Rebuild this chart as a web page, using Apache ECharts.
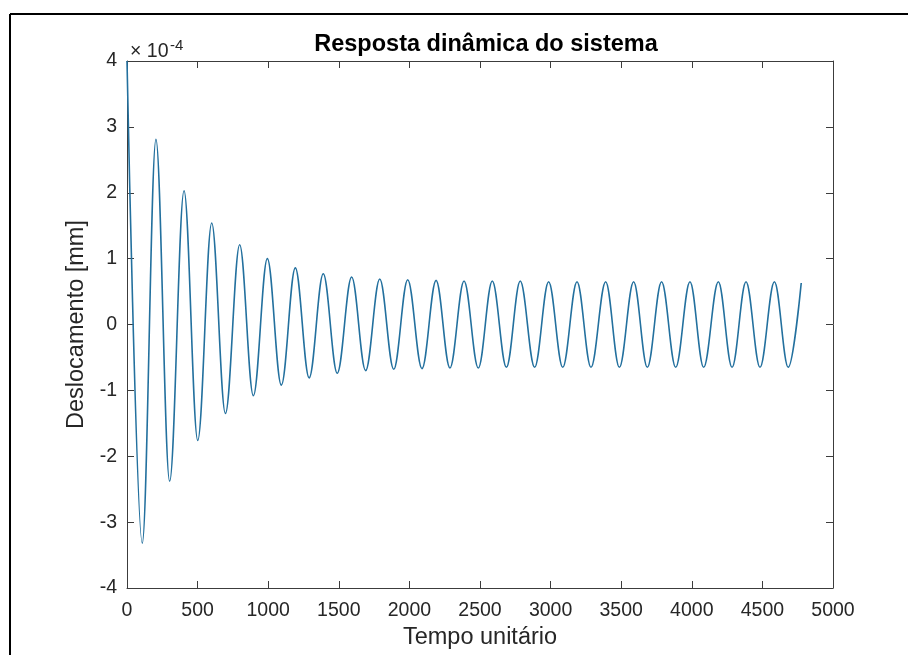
<!DOCTYPE html>
<html>
<head>
<meta charset="utf-8">
<script src="https://cdn.jsdelivr.net/npm/echarts@6/dist/echarts.min.js"></script>
<style>
  html, body { margin: 0; padding: 0; background: #ffffff; }
  #chart { width: 908px; height: 655px; }
</style>
</head>
<body>
<div id="chart"></div>
<script>
// Texts
const titleText = 'Resposta dinâmica do sistema';
const xAxisName = 'Tempo unitário';
const yAxisName = 'Deslocamento [mm]';
const yScaleBase = '× 10';
const yScaleExp = '-4';

// Axis ranges (displacement values are in units of 10^-4 mm)
const xMin = 0, xMax = 5000, xStep = 500;
const yMin = -4, yMax = 4, yStep = 1;

// Local maxima of the response: time and displacement
const peakTimes = [0, 205, 404, 600, 798, 994, 1192, 1390, 1591, 1790, 1988, 2189,
  2387, 2587, 2785, 2986, 3187, 3390, 3588, 3786, 3987, 4188, 4384, 4585];
const peakValues = [4.00, 2.81, 2.03, 1.54, 1.21, 1.00, 0.86, 0.77, 0.72, 0.69, 0.68, 0.67,
  0.66, 0.66, 0.66, 0.65, 0.65, 0.65, 0.65, 0.65, 0.65, 0.65, 0.65, 0.65];

// Local minima of the response: time and displacement
const troughTimes = [108, 302, 501, 697, 895, 1093, 1290, 1489, 1690, 1889, 2089, 2287,
  2488, 2687, 2887, 3086, 3286, 3487, 3685, 3886, 4084, 4285, 4483, 4683];
const troughValues = [-3.32, -2.38, -1.76, -1.35, -1.08, -0.92, -0.81, -0.74, -0.70, -0.68, -0.67, -0.66,
  -0.66, -0.65, -0.65, -0.65, -0.65, -0.65, -0.65, -0.65, -0.65, -0.65, -0.65, -0.65];

// Last sample of the simulation
const endTime = [4775];
const endValue = [0.63];

// Merge all samples into one time-ordered series
const samples = [];
peakTimes.forEach((t, i) => samples.push([t, peakValues[i]]));
troughTimes.forEach((t, i) => samples.push([t, troughValues[i]]));
endTime.forEach((t, i) => samples.push([t, endValue[i]]));
samples.sort((a, b) => a[0] - b[0]);

const FONT = "'Liberation Sans', Arial, Helvetica, sans-serif";
const TEXT = '#262626';
const AXIS = '#3c3c3c';

const axisCommon = {
  axisLine: { show: true, onZero: false, lineStyle: { color: AXIS, width: 1 } },
  axisTick: { show: true, inside: true, length: 7, lineStyle: { color: AXIS, width: 1 } },
  splitLine: { show: false },
  minorTick: { show: false }
};

const chart = echarts.init(document.getElementById('chart'), null, { renderer: 'canvas' });

chart.setOption({
  animation: false,
  backgroundColor: '#ffffff',
  title: {
    text: titleText,
    left: 481,
    top: 28,
    textAlign: 'center',
    textStyle: { fontFamily: FONT, fontSize: 23.5, fontWeight: 'bold', color: '#000000' }
  },
  grid: { left: 127, top: 61, right: 75, bottom: 63, containLabel: false },
  xAxis: [
    Object.assign({
      type: 'value', position: 'bottom', min: xMin, max: xMax, interval: xStep,
      name: xAxisName, nameLocation: 'middle', nameGap: 38,
      nameTextStyle: { fontFamily: FONT, fontSize: 23.5, color: TEXT },
      axisLabel: { fontFamily: FONT, fontSize: 19.5, color: TEXT, margin: 13, formatter: v => String(v) }
    }, axisCommon),
    Object.assign({
      type: 'value', position: 'top', min: xMin, max: xMax, interval: xStep,
      axisLabel: { show: false }
    }, axisCommon)
  ],
  yAxis: [
    Object.assign({
      type: 'value', position: 'left', min: yMin, max: yMax, interval: yStep,
      name: yAxisName, nameLocation: 'middle', nameGap: 35,
      nameTextStyle: { fontFamily: FONT, fontSize: 23.5, color: TEXT },
      axisLabel: { fontFamily: FONT, fontSize: 19.5, color: TEXT, margin: 10 }
    }, axisCommon),
    Object.assign({
      type: 'value', position: 'right', min: yMin, max: yMax, interval: yStep,
      axisLabel: { show: false }
    }, axisCommon)
  ],
  series: [{
    type: 'line',
    xAxisIndex: 0,
    yAxisIndex: 0,
    data: samples,
    showSymbol: false,
    smooth: 0.36,
    smoothMonotone: 'x',
    lineStyle: { color: '#23709e', width: 1.6 },
    silent: true
  }],
  graphic: [
    { type: 'line', shape: { x1: 10, y1: 14, x2: 908, y2: 14 }, style: { stroke: '#000', lineWidth: 2 } },
    { type: 'line', shape: { x1: 10, y1: 14, x2: 10, y2: 655 }, style: { stroke: '#000', lineWidth: 2 } },
    { type: 'text', x: 130, y: 62, style: { text: yScaleBase, fill: TEXT, font: '19.5px ' + FONT, verticalAlign: 'bottom' } },
    { type: 'text', x: 170, y: 53, style: { text: yScaleExp, fill: TEXT, font: '15px ' + FONT, verticalAlign: 'bottom' } }
  ]
});
</script>
</body>
</html>
